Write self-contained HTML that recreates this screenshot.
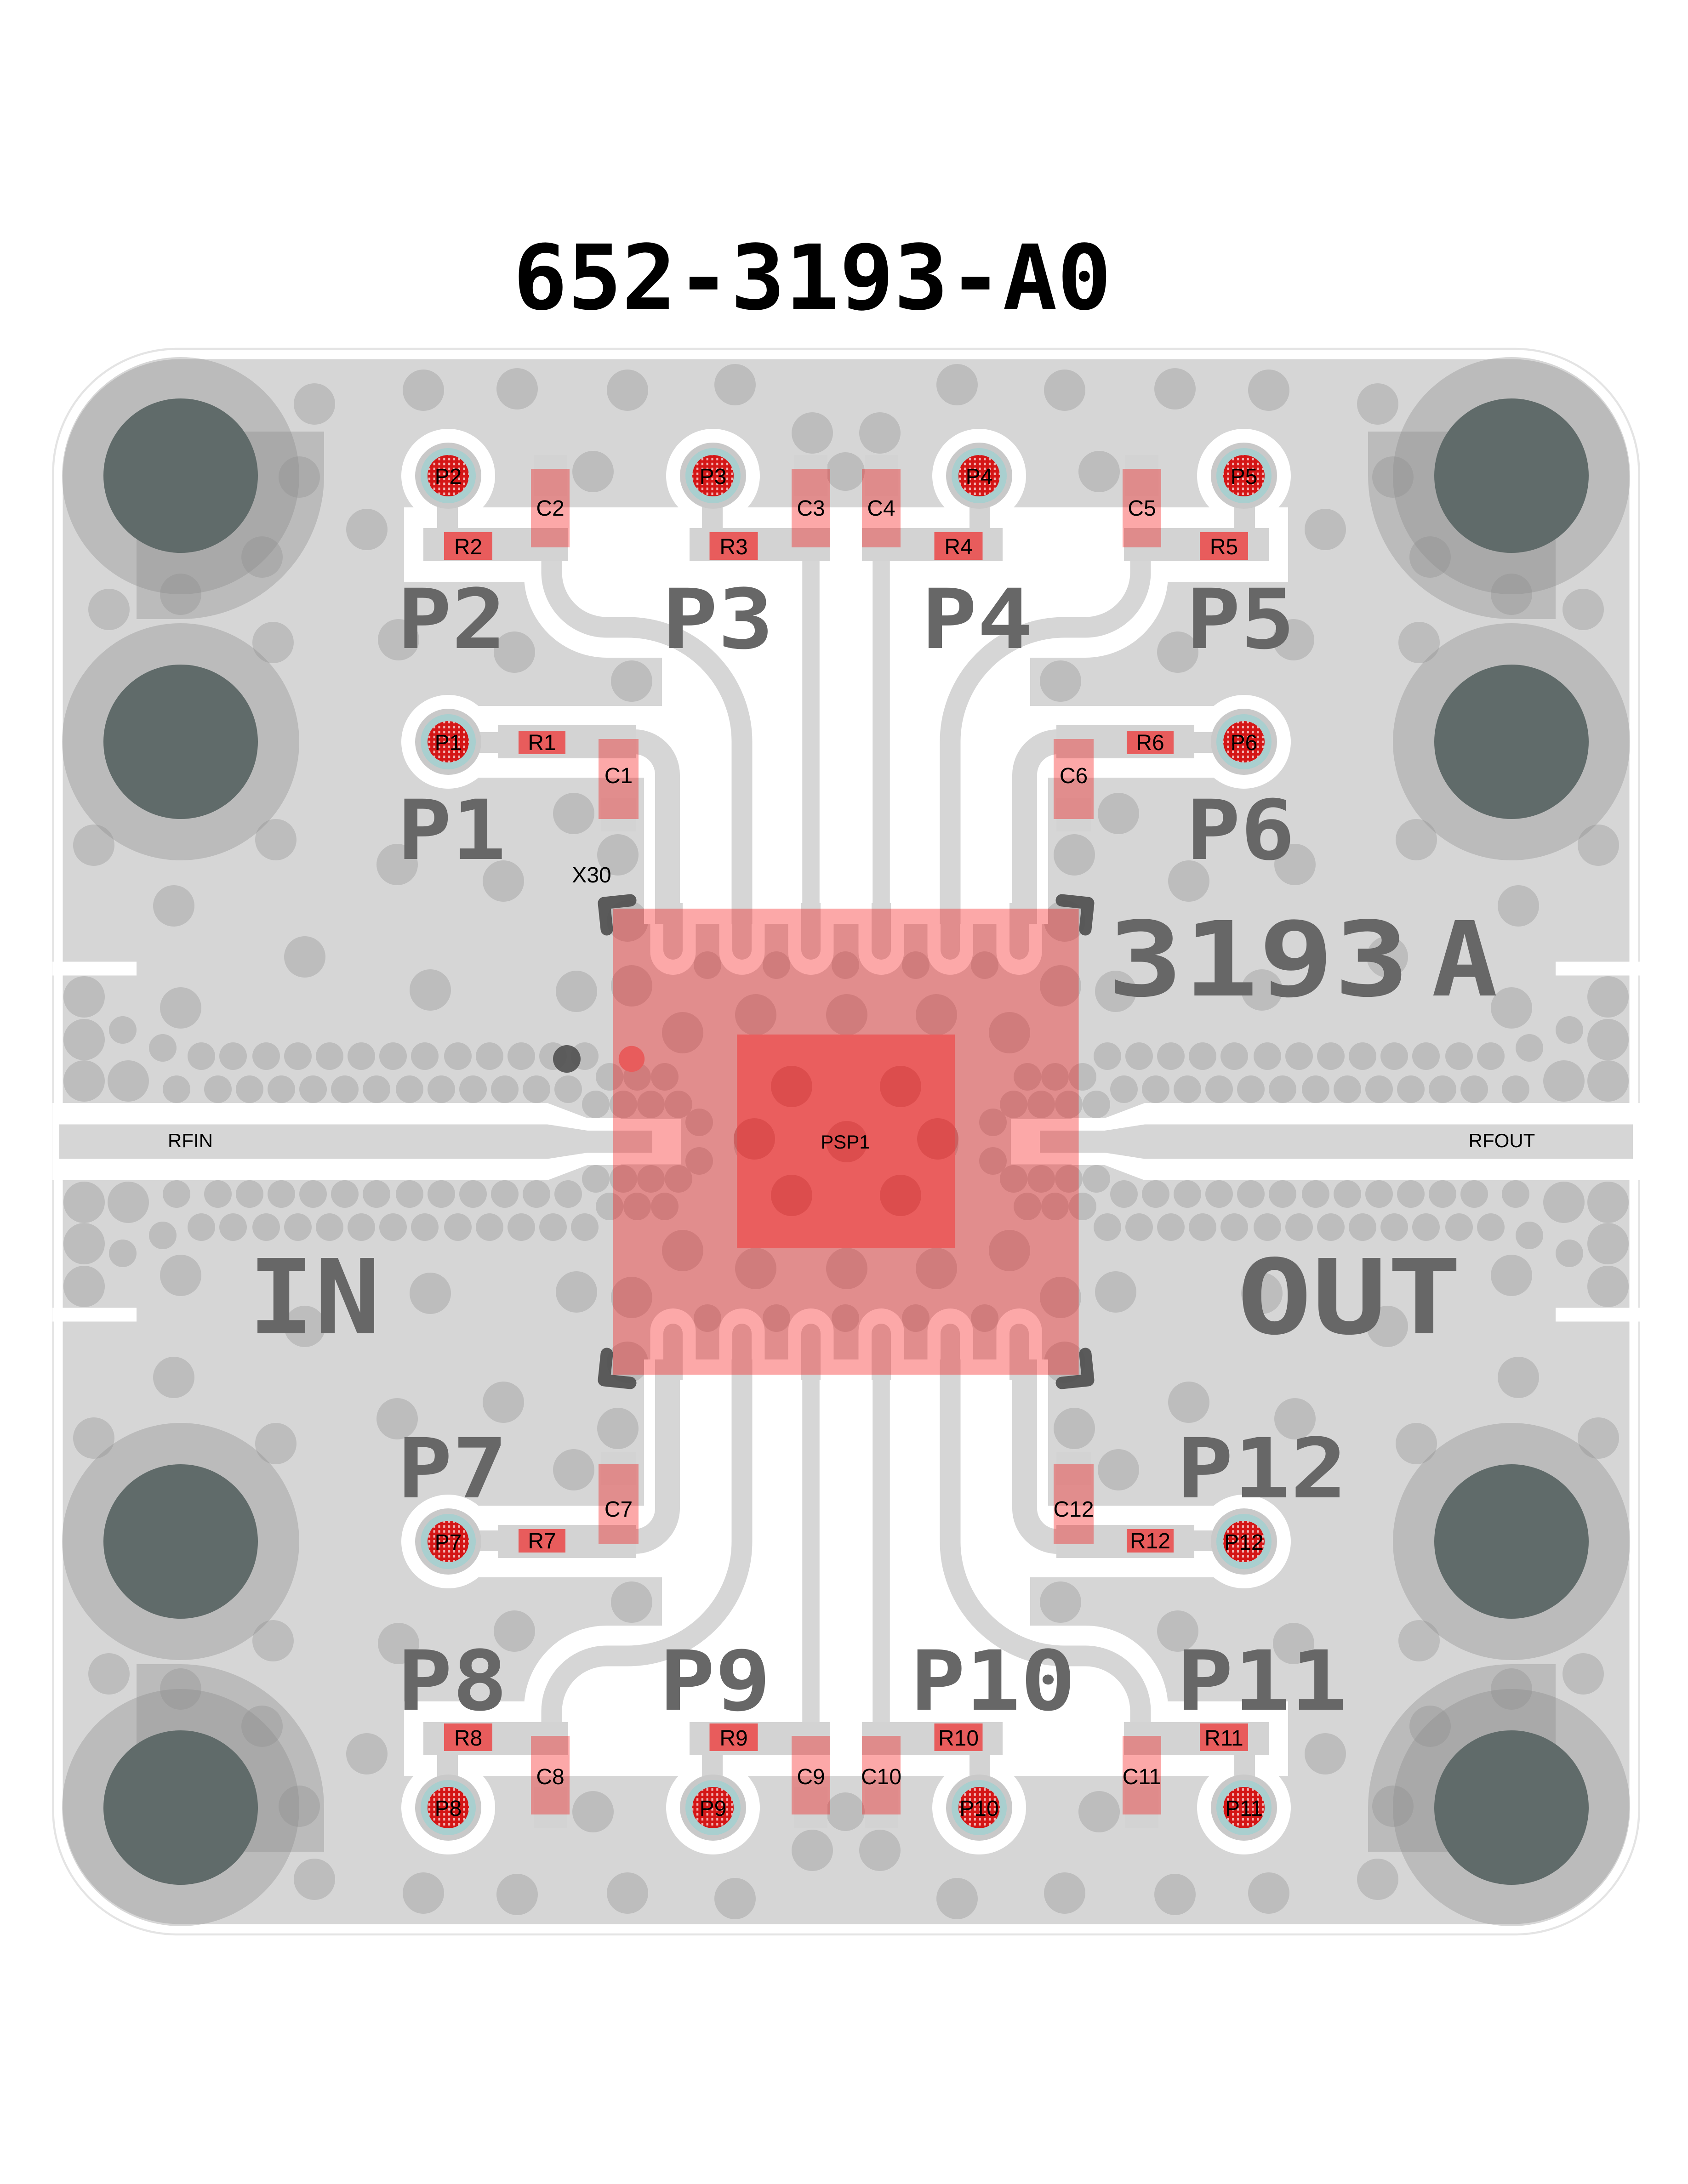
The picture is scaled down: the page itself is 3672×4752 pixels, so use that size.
<!DOCTYPE html>
<html><head><meta charset="utf-8"><style>
html,body{margin:0;padding:0;background:#fff;}
svg{display:block;}
</style></head><body>
<svg xmlns="http://www.w3.org/2000/svg" width="3672" height="4752" viewBox="0 0 1224 1584">
<defs>
<pattern id="grid" width="3.6" height="3.6" patternUnits="userSpaceOnUse"><rect width="3.6" height="3.6" fill="#d41616"/><rect x="1" y="0.8" width="1.4" height="1.8" fill="#f2b4b4"/></pattern>
<g id="q">
 <!-- vias -->
 <g fill="#bdbdbd">
  <circle cx="307" cy="283" r="15"/><circle cx="375" cy="282" r="15"/><circle cx="455" cy="283" r="15"/><circle cx="228" cy="293" r="15"/>
  <circle cx="533" cy="279" r="15"/><circle cx="589" cy="314" r="15"/>
  <circle cx="217" cy="346" r="15"/><circle cx="266" cy="384" r="15"/><circle cx="190" cy="404" r="15"/><circle cx="131" cy="431" r="15"/>
  <circle cx="79" cy="442" r="15"/><circle cx="198" cy="466" r="15"/><circle cx="289" cy="464" r="15"/><circle cx="373" cy="473" r="15"/>
  <circle cx="458" cy="494" r="15"/><circle cx="430" cy="342" r="15"/>
  <circle cx="68" cy="613" r="15"/><circle cx="126" cy="657" r="15"/><circle cx="200" cy="609" r="15"/><circle cx="221" cy="694" r="15"/>
  <circle cx="312" cy="718" r="15"/><circle cx="418" cy="719" r="15"/><circle cx="131" cy="731" r="15"/>
  <circle cx="61" cy="723" r="15"/><circle cx="61" cy="754" r="15"/><circle cx="61" cy="784" r="15"/><circle cx="93" cy="784" r="15"/>
  <circle cx="416" cy="590" r="15"/><circle cx="365" cy="639" r="15"/><circle cx="288" cy="627" r="15"/><circle cx="448" cy="620" r="15"/>
  <circle cx="455" cy="668" r="15"/><circle cx="458" cy="715" r="15"/><circle cx="495" cy="749" r="15"/><circle cx="548" cy="736" r="15"/>
  <circle cx="547" cy="826" r="15"/><circle cx="574" cy="788" r="15"/>
  <circle cx="89" cy="747" r="10"/><circle cx="118" cy="760" r="10"/>
  <circle cx="146" cy="766" r="10"/><circle cx="169" cy="766" r="10"/><circle cx="193" cy="766" r="10"/><circle cx="216" cy="766" r="10"/>
  <circle cx="239" cy="766" r="10"/><circle cx="262" cy="766" r="10"/><circle cx="285" cy="766" r="10"/><circle cx="308" cy="766" r="10"/>
  <circle cx="332" cy="766" r="10"/><circle cx="355" cy="766" r="10"/><circle cx="378" cy="766" r="10"/><circle cx="401" cy="766" r="10"/><circle cx="424" cy="766" r="10"/>
  <circle cx="128" cy="790" r="10"/><circle cx="158" cy="790" r="10"/><circle cx="181" cy="790" r="10"/><circle cx="204" cy="790" r="10"/>
  <circle cx="227" cy="790" r="10"/><circle cx="250" cy="790" r="10"/><circle cx="273" cy="790" r="10"/><circle cx="297" cy="790" r="10"/>
  <circle cx="320" cy="790" r="10"/><circle cx="343" cy="790" r="10"/><circle cx="366" cy="790" r="10"/><circle cx="389" cy="790" r="10"/><circle cx="412" cy="790" r="10"/>
  <circle cx="442" cy="781" r="10"/><circle cx="462" cy="781" r="10"/><circle cx="482" cy="781" r="10"/>
  <circle cx="452" cy="801" r="10"/><circle cx="472" cy="801" r="10"/><circle cx="492" cy="801" r="10"/><circle cx="507" cy="814" r="10"/>
  <circle cx="513" cy="700" r="10"/><circle cx="563" cy="700" r="10"/><circle cx="432" cy="801" r="10"/>
 </g>
 <!-- mounting holes -->
 <path d="M99 313 H235 V345 A104 104 0 0 1 131 449 H99 Z" fill="#8a8a8a" fill-opacity="0.35"/>
 <circle cx="131" cy="345" r="86" fill="#8a8a8a" fill-opacity="0.35"/>
 <circle cx="131" cy="345" r="56" fill="#606b6a"/>
 <circle cx="131" cy="538" r="86" fill="#8a8a8a" fill-opacity="0.35"/>
 <circle cx="131" cy="538" r="56" fill="#606b6a"/>
 <!-- white clearances -->
 <g fill="#fff">
  <rect x="293" y="368" width="321" height="54"/>
  <path d="M380 417 H614 V477 H440 A60 60 0 0 1 380 417 Z"/>
  <rect x="480" y="470" width="134" height="200"/>
  <rect x="325" y="512" width="160" height="52"/>
  <rect x="467" y="512" width="20" height="158"/>
  <circle cx="325" cy="345" r="34"/><circle cx="517" cy="345" r="34"/><circle cx="325" cy="538" r="34"/>
  <polygon points="38,800 397,800 426,811 450,811 450,829 38,829"/>
  <rect x="38" y="697.5" width="61" height="10"/>
  <path d="M471.5 655 V690.5 A16.5 16.5 0 0 0 504.5 690.5 V655 Z"/>
  <path d="M521.5 655 V690.5 A16.5 16.5 0 0 0 554.5 690.5 V655 Z"/>
  <path d="M571.5 655 V690.5 A16.5 16.5 0 0 0 604.5 690.5 V655 Z"/>
  <rect x="445" y="811.5" width="49" height="17.5"/>
 </g>
 <!-- traces -->
 <g fill="none" stroke="#d6d6d6">
  <path d="M400 400 V415 A40 40 0 0 0 440 455 H455 A83 83 0 0 1 538 538 V670" stroke-width="15"/>
  <path d="M588 400 V670" stroke-width="12.5"/>
  <path d="M455 538 H460 A24 24 0 0 1 484 562 V670" stroke-width="18"/>
 </g>
 <g fill="#d6d6d6">
  <path d="M481 655 V689 A7 7 0 0 0 495 689 V655 Z"/>
  <path d="M531 655 V689 A7 7 0 0 0 545 689 V655 Z"/>
  <path d="M581 655 V689 A7 7 0 0 0 595 689 V655 Z"/>
  <polygon points="43,815.5 397,815.5 426,820 473,820 473,829 43,829"/>
 </g>
 <!-- component lands -->
 <g fill="#d3d3d3">
  <rect x="307" y="383" width="105" height="24"/><rect x="317" y="345" width="15" height="40"/><rect x="387" y="330" width="24" height="30"/>
  <rect x="500" y="383" width="102" height="24"/><rect x="509" y="345" width="15" height="40"/><rect x="576" y="330" width="24" height="30"/>
  <rect x="361" y="526" width="100" height="24"/><rect x="325" y="531" width="40" height="15"/><rect x="436" y="579" width="25" height="24"/>
 </g>
 <!-- pads -->
 <g>
  <circle cx="325" cy="345" r="24" fill="#c9c9c9"/><circle cx="325" cy="345" r="20" fill="#a9cfcf"/><circle cx="325" cy="345" r="15" fill="url(#grid)"/>
  <circle cx="517" cy="345" r="24" fill="#c9c9c9"/><circle cx="517" cy="345" r="20" fill="#a9cfcf"/><circle cx="517" cy="345" r="15" fill="url(#grid)"/>
  <circle cx="325" cy="538" r="24" fill="#c9c9c9"/><circle cx="325" cy="538" r="20" fill="#a9cfcf"/><circle cx="325" cy="538" r="15" fill="url(#grid)"/>
 </g>
 <g fill="#e85c5c">
  <rect x="322" y="386" width="35" height="20"/><rect x="514.5" y="386" width="35" height="20"/><rect x="376" y="530" width="34" height="17"/>
 </g>
 <g fill="rgb(246,0,0)" fill-opacity="0.34">
  <rect x="385" y="340" width="28" height="57"/><rect x="574" y="340" width="28" height="57"/><rect x="434" y="536" width="29" height="58"/>
 </g>
 <path d="M440 674 L438 655 L457 653" fill="none" stroke="#4d4d4d" stroke-width="9" stroke-linecap="round" stroke-linejoin="round" opacity="0.9"/>
</g>
</defs>

<!-- title -->
<text x="372" y="224" font-family="'DejaVu Sans Mono','Liberation Mono',monospace" font-weight="bold" font-size="65" textLength="434" lengthAdjust="spacingAndGlyphs" fill="#000">652-3193-A0</text>

<!-- board -->
<rect x="38.5" y="253" width="1150" height="1150" rx="90" fill="#fff" stroke="#e4e4e4" stroke-width="1.5"/>
<rect x="45.5" y="260.5" width="1136" height="1135" rx="85" fill="#d6d6d6"/>

<g fill="#bdbdbd">
 <circle cx="613" cy="342" r="14"/><circle cx="613" cy="1314" r="14"/>
 <circle cx="614" cy="736" r="15"/><circle cx="614" cy="920" r="15"/>
 <circle cx="613" cy="700" r="10"/><circle cx="613" cy="956" r="10"/>
</g>

<use href="#q"/>
<use href="#q" transform="matrix(-1 0 0 1 1227 0)"/>
<use href="#q" transform="matrix(1 0 0 -1 0 1656)"/>
<use href="#q" transform="matrix(-1 0 0 -1 1227 1656)"/>

<!-- chip -->
<rect x="444.6" y="659" width="337.6" height="338" fill="rgb(246,0,0)" fill-opacity="0.34"/>
<rect x="534.4" y="750.3" width="158" height="155" fill="#ea5e5e"/>
<g fill="rgb(190,40,40)" fill-opacity="0.3">
 <circle cx="574" cy="788" r="15"/><circle cx="653" cy="788" r="15"/><circle cx="547" cy="826" r="15"/><circle cx="680" cy="826" r="15"/>
 <circle cx="614" cy="828" r="15"/><circle cx="574" cy="867" r="15"/><circle cx="653" cy="867" r="15"/>
</g>
<circle cx="458" cy="768" r="9.4" fill="#e85c5c"/>
<circle cx="411" cy="768" r="10" fill="#505050" opacity="0.9"/>

<!-- big labels -->
<g font-family="'DejaVu Sans Mono','Liberation Mono',monospace" font-weight="bold" font-size="60" fill="#676767" lengthAdjust="spacingAndGlyphs">
 <text x="288" y="470" textLength="79" lengthAdjust="spacingAndGlyphs">P2</text>
 <text x="480" y="470" textLength="81" lengthAdjust="spacingAndGlyphs">P3</text>
 <text x="668" y="470" textLength="81" lengthAdjust="spacingAndGlyphs">P4</text>
 <text x="860" y="470" textLength="79" lengthAdjust="spacingAndGlyphs">P5</text>
 <text x="288" y="623" textLength="79" lengthAdjust="spacingAndGlyphs">P1</text>
 <text x="860" y="623" textLength="79" lengthAdjust="spacingAndGlyphs">P6</text>
 <text x="288" y="1086" textLength="80" lengthAdjust="spacingAndGlyphs">P7</text>
 <text x="853" y="1086" textLength="124" lengthAdjust="spacingAndGlyphs">P12</text>
 <text x="288" y="1240" textLength="80" lengthAdjust="spacingAndGlyphs">P8</text>
 <text x="478" y="1240" textLength="81" lengthAdjust="spacingAndGlyphs">P9</text>
 <text x="660" y="1240" textLength="120" lengthAdjust="spacingAndGlyphs">P10</text>
 <text x="853" y="1240" textLength="124" lengthAdjust="spacingAndGlyphs">P11</text>
 <text x="180" y="967" font-size="75" textLength="96" lengthAdjust="spacingAndGlyphs">IN</text>
 <text x="897" y="967" font-size="75" textLength="163" lengthAdjust="spacingAndGlyphs">OUT</text>
 <text x="803" y="722" font-size="75" textLength="219" lengthAdjust="spacingAndGlyphs">3193</text>
 <text x="1038" y="722" font-size="75" textLength="48" lengthAdjust="spacingAndGlyphs">A</text>
</g>

<!-- small labels -->
<g font-family="'Liberation Sans',Arial,sans-serif" font-size="16" fill="#000" text-anchor="middle">
 <text x="325" y="351">P2</text><text x="517" y="351">P3</text><text x="710" y="351">P4</text><text x="902" y="351">P5</text>
 <text x="325" y="544">P1</text><text x="902" y="544">P6</text>
 <text x="325" y="1317">P8</text><text x="517" y="1317">P9</text><text x="710" y="1317">P10</text><text x="902" y="1317">P11</text>
 <text x="325" y="1124">P7</text><text x="902" y="1124">P12</text>
 <text x="339.5" y="402">R2</text><text x="532" y="402">R3</text><text x="695" y="402">R4</text><text x="887.5" y="402">R5</text>
 <text x="393" y="544">R1</text><text x="834" y="544">R6</text>
 <text x="339.5" y="1266">R8</text><text x="532" y="1266">R9</text><text x="695" y="1266">R10</text><text x="887.5" y="1266">R11</text>
 <text x="393" y="1123">R7</text><text x="834" y="1123">R12</text>
 <text x="399" y="374">C2</text><text x="588" y="374">C3</text><text x="639" y="374">C4</text><text x="828" y="374">C5</text>
 <text x="448.5" y="568">C1</text><text x="778.5" y="568">C6</text>
 <text x="399" y="1294">C8</text><text x="588" y="1294">C9</text><text x="639" y="1294">C10</text><text x="828" y="1294">C11</text>
 <text x="448.5" y="1100">C7</text><text x="778.5" y="1100">C12</text>
 <text x="429" y="640">X30</text>
 <text x="613" y="833" font-size="14">PSP1</text>
 <text x="138" y="832" font-size="14">RFIN</text>
 <text x="1089" y="832" font-size="14">RFOUT</text>
</g>
</svg>
</body></html>
